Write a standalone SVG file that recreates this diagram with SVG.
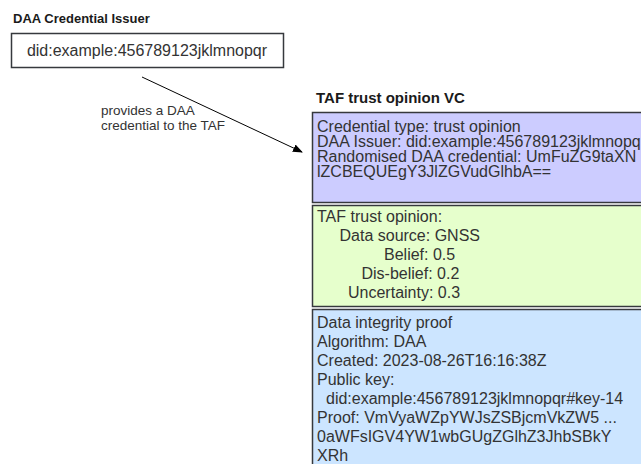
<svg xmlns="http://www.w3.org/2000/svg" width="641" height="464" viewBox="0 0 641 464">
  <style>
    .title { font-family: "Liberation Sans", Arial, sans-serif; font-weight: bold; fill: #1a1a1a; }
    .txt { font-family: "Liberation Sans", Arial, sans-serif; font-size: 16px; fill: #333333; }
    .lbl { font-family: "Liberation Sans", Arial, sans-serif; font-size: 13.5px; fill: #333333; }
    .box { stroke: #36393d; stroke-width: 1.5; }
    .conn { stroke: #000000; stroke-width: 1; fill: none; }
  </style>
  <defs>
    <marker id="arrowBlock" viewBox="0 0 10 10" refX="9" refY="5" markerWidth="10" markerHeight="10" markerUnits="userSpaceOnUse" orient="auto">
      <path d="M0,1 L10,5 L0,9 Z" fill="#000000"/>
    </marker>
  </defs>
  <rect width="641" height="464" fill="#ffffff"/>

  <!-- Issuer -->
  <g id="issuer">
    <text class="title" x="13" y="23" font-size="13">DAA Credential Issuer</text>
    <rect class="box" x="11.5" y="33.5" width="272" height="34" fill="#ffffff"/>
    <text class="txt" x="147" y="56" text-anchor="middle">did:example:456789123jklmnopqr</text>
  </g>

  <!-- Connectors -->
  <g id="connectors">
    <line class="conn" x1="142" y1="77" x2="302" y2="152" marker-end="url(#arrowBlock)"/>
    <text class="lbl" x="101" y="115">provides a DAA</text>
    <text class="lbl" x="101" y="130">credential to the TAF</text>
  </g>

  <!-- Verifiable credential -->
  <g id="vc-title">
    <text class="title" x="316" y="103" font-size="15">TAF trust opinion VC</text>
  </g>

  <!-- claims: tight line spacing -->
  <g id="vc-claims">
    <rect class="box" x="312.5" y="112.5" width="340" height="90" fill="#ccccff"/>
    <text class="txt" x="317" y="132">Credential type: trust opinion</text>
    <text class="txt" x="317" y="147">DAA Issuer: did:example:456789123jklmnopqr</text>
    <text class="txt" x="317" y="162">Randomised DAA credential: UmFuZG9taXN</text>
    <text class="txt" x="317" y="177">lZCBEQUEgY3JlZGVudGlhbA==</text>
  </g>

  <!-- opinion values, indented -->
  <g id="vc-opinion">
    <rect class="box" x="312.5" y="205.5" width="340" height="101" fill="#e6ffcc"/>
    <text class="txt" x="317" y="222">TAF trust opinion:</text>
    <text class="txt" x="339.5" y="241">Data source: GNSS</text>
    <text class="txt" x="384" y="260">Belief: 0.5</text>
    <text class="txt" x="361.5" y="279">Dis-belief: 0.2</text>
    <text class="txt" x="348" y="298">Uncertainty: 0.3</text>
  </g>

  <g id="vc-proof">
    <rect class="box" x="312.5" y="309.5" width="340" height="170" fill="#cce5ff"/>
    <text class="txt" x="317" y="328">Data integrity proof</text>
    <text class="txt" x="317" y="347">Algorithm: DAA</text>
    <text class="txt" x="317" y="366">Created: 2023-08-26T16:16:38Z</text>
    <text class="txt" x="317" y="385">Public key:</text>
    <text class="txt" x="326" y="404">did:example:456789123jklmnopqr#key-14</text>
    <text class="txt" x="317" y="423">Proof: VmVyaWZpYWJsZSBjcmVkZW5 ...</text>
    <text class="txt" x="317" y="442">0aWFsIGV4YW1wbGUgZGlhZ3JhbSBkY</text>
    <text class="txt" x="317" y="461">XRh</text>
  </g>
</svg>
